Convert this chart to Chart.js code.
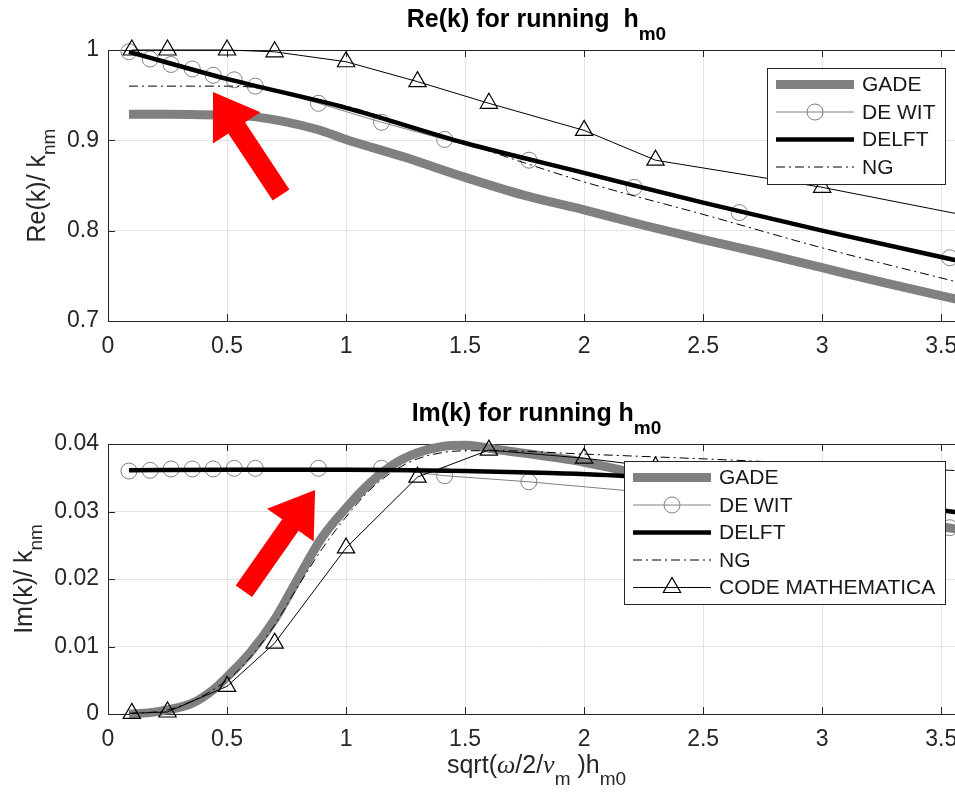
<!DOCTYPE html>
<html>
<head>
<meta charset="utf-8">
<script src="https://cdn.jsdelivr.net/npm/chart.js@4.4.1/dist/chart.umd.min.js"></script>
<style>
  html, body { margin: 0; padding: 0; overflow: hidden; background: #fff; width: 955px; height: 796px; }
  canvas { position: absolute; left: 0; }
  #chart-re { top: 0; }
  #chart-im { top: 398px; }
</style>
</head>
<body>
<canvas id="chart-re" width="975" height="398"></canvas>
<canvas id="chart-im" width="975" height="398"></canvas>
<script>
// axis ticks
const xTicks = [0, 0.5, 1, 1.5, 2, 2.5, 3, 3.5];
const reTicks = [0.7, 0.8, 0.9, 1];
const imTicks = [0, 0.01, 0.02, 0.03, 0.04];

// GADE
const gadeReX = [0.088, 0.25, 0.45, 0.62, 0.88, 1.0, 1.25, 1.5, 1.75, 2.0, 2.25, 2.5, 2.75, 3.0, 3.25, 3.6];
const gadeReY = [0.929, 0.929, 0.928, 0.926, 0.912, 0.901, 0.881, 0.859, 0.839, 0.823, 0.806, 0.790, 0.775, 0.759, 0.743, 0.722];
const gadeImX = [0.088, 0.177, 0.25, 0.354, 0.442, 0.5, 0.6, 0.7, 0.8, 0.9, 1.0, 1.1, 1.2, 1.3, 1.4, 1.5, 1.65, 2.0, 2.2, 2.5, 3.0, 3.6];
const gadeImY = [0.0000, 0.0002, 0.0006, 0.0016, 0.0036, 0.0055, 0.0092, 0.0140, 0.0202, 0.0262, 0.0305, 0.0342, 0.0370, 0.0387, 0.0396, 0.0398, 0.0391, 0.0373, 0.0358, 0.0335, 0.0305, 0.0272];

// DE WIT
const deWitX = [0.088, 0.177, 0.265, 0.354, 0.442, 0.530, 0.619, 0.884, 1.149, 1.414, 1.768, 2.210, 2.652, 3.536];
const deWitReY = [0.998, 0.990, 0.984, 0.979, 0.972, 0.967, 0.960, 0.941, 0.920, 0.901, 0.878, 0.848, 0.820, 0.770];
const deWitImY = [0.0360, 0.0361, 0.0363, 0.0363, 0.0363, 0.0364, 0.0364, 0.0364, 0.0364, 0.0353, 0.0344, 0.0330, 0.0312, 0.0276];

// DELFT
const delftReX = [0.088, 0.5, 1.0, 1.5, 2.0, 2.5, 3.0, 3.6];
const delftReY = [0.998, 0.968, 0.936, 0.897, 0.864, 0.831, 0.800, 0.765];
const delftImX = [0.088, 0.5, 1.0, 1.5, 1.86, 2.2, 2.5, 3.0, 3.6];
const delftImY = [0.0361, 0.0362, 0.0362, 0.0360, 0.0357, 0.0352, 0.0344, 0.0326, 0.0297];

// NG
const ngReX = [0.088, 0.5, 0.6, 0.75, 1.0, 1.25, 1.5, 1.75, 2.0, 2.5, 3.0, 3.6];
const ngReY = [0.960, 0.960, 0.959, 0.952, 0.938, 0.918, 0.897, 0.875, 0.854, 0.818, 0.781, 0.741];
const ngImX = [0.088, 0.25, 0.5, 0.6, 0.7, 0.8, 0.9, 1.0, 1.1, 1.2, 1.3, 1.4, 1.5, 1.65, 2.0, 2.5, 3.0, 3.6];
const ngImY = [0.0001, 0.0006, 0.0050, 0.0085, 0.0132, 0.0190, 0.0245, 0.0292, 0.0332, 0.0360, 0.0378, 0.0387, 0.0390, 0.0390, 0.0385, 0.0378, 0.0370, 0.0360];

// CODE MATHEMATICA
const codeReX = [0.1, 0.25, 0.5, 0.7, 1.0, 1.3, 1.6, 2.0, 2.3, 3.0, 3.6];
const codeReY = [1.0, 1.0, 1.0, 0.998, 0.987, 0.965, 0.941, 0.911, 0.878, 0.848, 0.817];
const codeImX = [0.1, 0.25, 0.5, 0.7, 1.0, 1.3, 1.6, 2.0, 2.3, 3.0];
const codeImY = [0.0001, 0.0003, 0.0041, 0.0105, 0.0246, 0.0351, 0.0391, 0.0379, 0.0366, 0.0335];

const FONT = '"Liberation Sans", Arial, sans-serif';
const pts = (xs, ys) => xs.map((x, i) => ({ x, y: ys[i] }));

function series(label, data) {
    const base = { label, data, fill: false, clip: false, pointRadius: 0, borderWidth: 1, tension: 0 };
    switch (label) {
        case 'GADE':
            return { ...base, order: 5, borderColor: '#808080', borderWidth: 9, cubicInterpolationMode: 'monotone' };
        case 'DE WIT':
            return { ...base, order: 4, borderColor: '#808080', pointStyle: 'circle', pointRadius: 8,
                pointBorderColor: '#808080', pointBackgroundColor: 'rgba(0,0,0,0)', pointBorderWidth: 1 };
        case 'DELFT':
            return { ...base, order: 3, borderColor: '#000', borderWidth: 4.5, cubicInterpolationMode: 'monotone' };
        case 'NG':
            return { ...base, order: 2, borderColor: '#000', borderDash: [9, 4, 2, 4], cubicInterpolationMode: 'monotone' };
        default:
            return { ...base, order: 1, borderColor: '#000', pointStyle: 'triangle', pointRadius: 10,
                pointBorderColor: '#000', pointBackgroundColor: 'rgba(0,0,0,0)', pointBorderWidth: 1.2 };
    }
}

function drawMarker(ctx, style, x, y, r, color, lw) {
    ctx.save();
    ctx.strokeStyle = color;
    ctx.lineWidth = lw;
    ctx.setLineDash([]);
    ctx.beginPath();
    if (style === 'triangle') {
        ctx.moveTo(x, y - r);
        ctx.lineTo(x + 0.866 * r, y + 0.5 * r);
        ctx.lineTo(x - 0.866 * r, y + 0.5 * r);
        ctx.closePath();
    } else {
        ctx.arc(x, y, r, 0, Math.PI * 2);
    }
    ctx.stroke();
    ctx.restore();
}

// text runs with sub-scripts, centred on x
function richText(ctx, parts, x, y) {
    let w = 0;
    parts.forEach(p => { ctx.font = p.font; p.w = ctx.measureText(p.t).width; w += p.w; });
    let cx = x - w / 2;
    ctx.textAlign = 'left';
    ctx.textBaseline = 'alphabetic';
    parts.forEach(p => { ctx.font = p.font; ctx.fillText(p.t, cx, y + (p.dy || 0)); cx += p.w; });
}

function drawArrow(ctx, x0, y0, x1, y1) {
    const shaftW = 20, headW = 57, headL = 43;
    const len = Math.hypot(x1 - x0, y1 - y0);
    const ux = (x1 - x0) / len, uy = (y1 - y0) / len;
    const nx = -uy, ny = ux;
    const bx = x1 - ux * headL, by = y1 - uy * headL;
    ctx.save();
    ctx.fillStyle = '#ff0000';
    ctx.beginPath();
    ctx.moveTo(x0 + nx * shaftW / 2, y0 + ny * shaftW / 2);
    ctx.lineTo(bx + nx * shaftW / 2, by + ny * shaftW / 2);
    ctx.lineTo(bx + nx * headW / 2, by + ny * headW / 2);
    ctx.lineTo(x1, y1);
    ctx.lineTo(bx - nx * headW / 2, by - ny * headW / 2);
    ctx.lineTo(bx - nx * shaftW / 2, by - ny * shaftW / 2);
    ctx.lineTo(x0 - nx * shaftW / 2, y0 - ny * shaftW / 2);
    ctx.closePath();
    ctx.fill();
    ctx.restore();
}

// axes box with inward tick marks
const framePlugin = {
    id: 'frame',
    beforeDatasetsDraw(chart) {
        const { ctx, chartArea: a, scales: { x, y } } = chart;
        ctx.save();
        ctx.strokeStyle = '#262626';
        ctx.lineWidth = 1;
        ctx.beginPath();
        x.ticks.forEach(t => {
            const px = Math.round(x.getPixelForValue(t.value)) + 0.5;
            ctx.moveTo(px, a.bottom); ctx.lineTo(px, a.bottom - 7);
            ctx.moveTo(px, a.top); ctx.lineTo(px, a.top + 7);
        });
        y.ticks.forEach(t => {
            const py = Math.round(y.getPixelForValue(t.value)) + 0.5;
            ctx.moveTo(a.left, py); ctx.lineTo(a.left + 7, py);
            ctx.moveTo(a.right, py); ctx.lineTo(a.right - 7, py);
        });
        ctx.stroke();
        ctx.strokeRect(Math.round(a.left) + 0.5, Math.round(a.top) + 0.5, Math.round(a.right - a.left), Math.round(a.bottom - a.top));
        ctx.restore();
    }
};

// legend box inside the plot
const boxLegend = {
    id: 'boxLegend',
    afterDraw(chart, args, opts) {
        const { ctx, chartArea: a } = chart;
        const sets = chart.data.datasets.filter(d => opts.labels.includes(d.label));
        ctx.save();
        ctx.font = '21px ' + FONT;
        const textW = Math.max(...sets.map(d => ctx.measureText(d.label).width));
        const w = Math.round(95 + textW + 10), h = Math.round(33 + 27.5 * (sets.length - 1));
        const left = Math.round(a.right - opts.right - w), top = Math.round(a.top + opts.top);
        ctx.fillStyle = '#fff';
        ctx.fillRect(left, top, w, h);
        ctx.strokeStyle = '#262626';
        ctx.lineWidth = 1;
        ctx.strokeRect(left + 0.5, top + 0.5, w, h);
        sets.forEach((d, i) => {
            const y = top + 16.5 + i * 27.5;
            ctx.strokeStyle = d.borderColor;
            ctx.lineWidth = d.borderWidth;
            ctx.setLineDash(d.borderDash || []);
            ctx.beginPath();
            ctx.moveTo(left + 9, y);
            ctx.lineTo(left + 87, y);
            ctx.stroke();
            ctx.setLineDash([]);
            if (d.pointRadius) drawMarker(ctx, d.pointStyle, left + 48, y, d.pointRadius, d.pointBorderColor, d.pointBorderWidth);
            ctx.fillStyle = '#1a1a1a';
            ctx.font = '21px ' + FONT;
            ctx.textAlign = 'left';
            ctx.textBaseline = 'middle';
            ctx.fillText(d.label, left + 95, y + 1);
        });
        ctx.restore();
    }
};

// titles, axis labels and the red arrow
const labelsPlugin = {
    id: 'labels',
    afterDraw(chart, args, opts) {
        const { ctx, chartArea: a, scales: { x, y } } = chart;
        ctx.save();
        ctx.fillStyle = '#000';
        richText(ctx, opts.title, (a.left + a.right) / 2, a.top - 23);
        ctx.fillStyle = '#262626';
        ctx.save();
        ctx.translate(opts.yTitleX, (a.top + a.bottom) / 2);
        ctx.rotate(-Math.PI / 2);
        richText(ctx, opts.yTitle, 0, 0);
        ctx.restore();
        if (opts.xTitle) richText(ctx, opts.xTitle, (a.left + a.right) / 2, a.bottom + 59);
        const ar = opts.arrow;
        drawArrow(ctx, x.getPixelForValue(ar.tail[0]), y.getPixelForValue(ar.tail[1]),
            x.getPixelForValue(ar.tip[0]), y.getPixelForValue(ar.tip[1]));
        ctx.restore();
    }
};

const bold = 'bold 25px ' + FONT, boldSub = 'bold 19px ' + FONT;
const reg = '25px ' + FONT, sub = '19px ' + FONT;
const greek = 'italic 26px "Liberation Serif", serif';

function makeChart(canvas, cfg) {
    return new Chart(canvas.getContext('2d'), {
        type: 'line',
        data: { datasets: cfg.datasets },
        options: {
            responsive: false,
            animation: false,
            events: [],
            layout: { autoPadding: false, padding: { top: cfg.top, right: 10, left: 0, bottom: 0 } },
            scales: {
                x: {
                    type: 'linear', min: 0, max: 3.6,
                    afterBuildTicks: s => { s.ticks = xTicks.map(v => ({ value: v })); },
                    afterFit: s => { s.height = cfg.xHeight; },
                    grid: { color: '#e3e3e3', drawTicks: false },
                    border: { display: false },
                    ticks: { padding: 12, maxRotation: 0, autoSkip: false, color: '#262626', font: { family: FONT, size: 23 }, callback: v => String(v) }
                },
                y: {
                    type: 'linear', min: cfg.yTicks[0], max: cfg.yTicks[cfg.yTicks.length - 1],
                    afterBuildTicks: s => { s.ticks = cfg.yTicks.map(v => ({ value: v })); },
                    afterFit: s => { s.width = 108; },
                    grid: { color: '#e3e3e3', drawTicks: false },
                    border: { display: false },
                    ticks: { padding: 9, color: '#262626', font: { family: FONT, size: 23 }, callback: v => String(v) }
                }
            },
            plugins: {
                legend: { display: false },
                tooltip: { enabled: false },
                boxLegend: cfg.legend,
                labels: cfg.labels
            }
        },
        plugins: [framePlugin, boxLegend, labelsPlugin]
    });
}

makeChart(document.getElementById('chart-re'), {
    top: 50, xHeight: 77, yTicks: reTicks,
    datasets: [
        series('GADE', pts(gadeReX, gadeReY)),
        series('DE WIT', pts(deWitX, deWitReY)),
        series('DELFT', pts(delftReX, delftReY)),
        series('NG', pts(ngReX, ngReY)),
        series('CODE MATHEMATICA', pts(codeReX, codeReY))
    ],
    legend: { labels: ['GADE', 'DE WIT', 'DELFT', 'NG'], right: 20, top: 18 },
    labels: {
        title: [{ t: 'Re(k) for running  h', font: bold }, { t: 'm0', font: boldSub, dy: 13 }],
        yTitle: [{ t: 'Re(k)/ k', font: reg }, { t: 'nm', font: sub, dy: 10 }],
        yTitleX: 45,
        arrow: { tail: [0.727, 0.8394], tip: [0.441, 0.9535] }
    }
});

makeChart(document.getElementById('chart-im'), {
    top: 46, xHeight: 82, yTicks: imTicks,
    datasets: [
        series('GADE', pts(gadeImX, gadeImY)),
        series('DE WIT', pts(deWitX, deWitImY)),
        series('DELFT', pts(delftImX, delftImY)),
        series('NG', pts(ngImX, ngImY)),
        series('CODE MATHEMATICA', pts(codeImX, codeImY))
    ],
    legend: { labels: ['GADE', 'DE WIT', 'DELFT', 'NG', 'CODE MATHEMATICA'], right: 20, top: 17 },
    labels: {
        title: [{ t: 'Im(k) for running h', font: bold }, { t: 'm0', font: boldSub, dy: 13 }],
        yTitle: [{ t: 'Im(k)/ k', font: reg }, { t: 'nm', font: sub, dy: 10 }],
        yTitleX: 32,
        xTitle: [
            { t: 'sqrt(', font: reg }, { t: 'ω', font: greek }, { t: '/2/', font: reg }, { t: 'ν', font: greek },
            { t: 'm', font: sub, dy: 12 }, { t: ' )h', font: reg }, { t: 'm0', font: sub, dy: 12 }
        ],
        arrow: { tail: [0.571, 0.0182], tip: [0.870, 0.0332] }
    }
});
</script>
</body>
</html>
